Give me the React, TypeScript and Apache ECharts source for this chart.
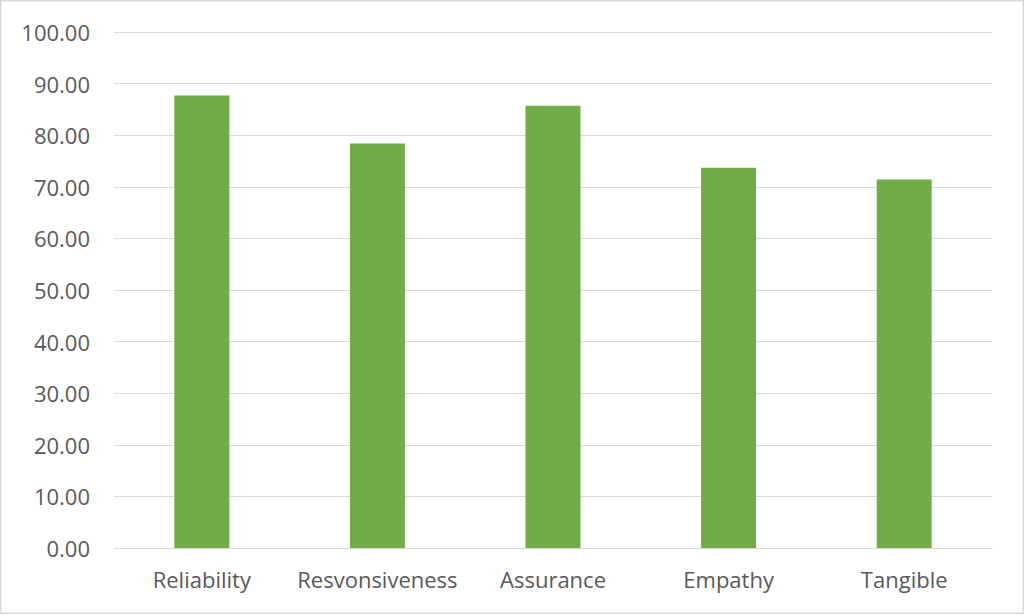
import React, { useEffect, useRef } from "react";
import * as echarts from "echarts";

const categories = ["Reliability", "Resvonsiveness", "Assurance", "Empathy", "Tangible"];
const values = [87.7, 78.4, 85.7, 73.7, 71.4];

export default function App() {
  const ref = useRef<HTMLDivElement>(null);
  useEffect(() => {
    document.body.style.margin = "0";
    const chart = echarts.init(ref.current!, null, { renderer: "svg" });
    const font = "Open Sans";
    chart.setOption({
      animation: false,
      backgroundColor: "#ffffff",
      graphic: [
        {
          type: "rect",
          shape: { x: 0.75, y: 0.75, width: 1022.5, height: 612.5 },
          style: { fill: "none", stroke: "#d9d9d9", lineWidth: 1.5 },
          silent: true,
        },
      ],
      grid: { left: 114, right: 32, top: 32, bottom: 67 },
      xAxis: {
        type: "category",
        data: categories,
        axisLine: { show: true, lineStyle: { color: "#d9d9d9", width: 1 } },
        axisTick: { show: false },
        axisLabel: { color: "#595959", fontSize: 22, fontFamily: font, margin: 20, interval: 0 },
      },
      yAxis: {
        type: "value",
        min: 0,
        max: 100,
        interval: 10,
        axisLine: { show: false },
        axisTick: { show: false },
        splitLine: { lineStyle: { color: "#d9d9d9", width: 1 } },
        axisLabel: {
          color: "#595959",
          fontSize: 22,
          fontFamily: font,
          margin: 24,
          formatter: (v: number) => v.toFixed(2),
        },
      },
      series: [
        {
          type: "bar",
          data: values,
          barWidth: 55,
          itemStyle: { color: "#70ad47" },
        },
      ],
    });
    return () => chart.dispose();
  }, []);
  return <div ref={ref} style={{ width: 1024, height: 615 }} />;
}
